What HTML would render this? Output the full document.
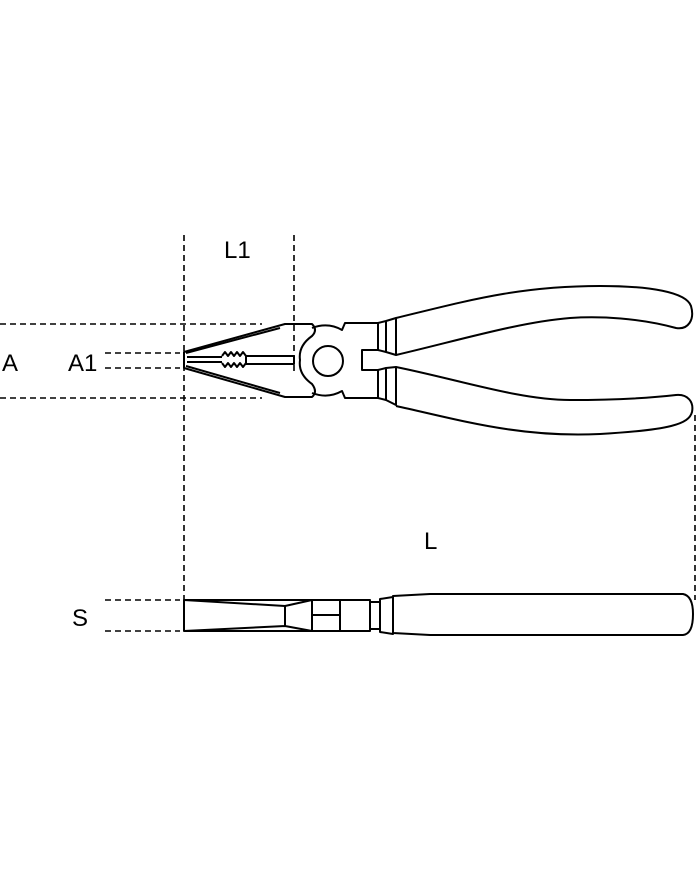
<!DOCTYPE html>
<html><head><style>body{margin:0;background:#fff}svg{display:block}</style></head><body>
<svg width="700" height="869" viewBox="0 0 700 869" xmlns="http://www.w3.org/2000/svg" font-family="Liberation Sans, sans-serif">
<g stroke="#000" stroke-width="1.6" stroke-dasharray="6,4" fill="none">
<line x1="184" y1="235" x2="184" y2="604"/>
<line x1="294" y1="235" x2="294" y2="372"/>
<line x1="0" y1="324" x2="262" y2="324"/>
<line x1="0" y1="398" x2="262" y2="398"/>
<line x1="105" y1="353" x2="180" y2="353"/>
<line x1="105" y1="368" x2="180" y2="368"/>
<line x1="695" y1="415" x2="695" y2="600"/>
<line x1="105" y1="600" x2="180" y2="600"/>
<line x1="105" y1="631" x2="180" y2="631"/>
</g>
<g font-size="24" fill="#000">
<text x="224" y="258" transform="scale(1,1)">L1</text>
<text x="2" y="371">A</text>
<text x="68" y="371">A1</text>
<text x="424" y="549">L</text>
<text x="72" y="626">S</text>
</g>
<g stroke="#000" stroke-width="2" fill="none" stroke-linejoin="round">
<path d="M184,352 L285,324 L312,324 Q318,330 312,336 Q298,346 300,360 Q298,374 312,384 Q318,392 312,397 L285,397 L184,368 Z"/>
<path d="M186,353 L280,328"/><path d="M186,366 L280,393"/>
<path d="M187,357 L222,357 M187,362 L222,362"/>
<path d="M222,356 l3,-4 l3,4 l3,-4 l3,4 l3,-4 l3,4 l3,-4 l3,4 M222,363 l3,4 l3,-4 l3,4 l3,-4 l3,4 l3,-4 l3,4 l3,-4"/>
<rect x="246" y="356" width="48" height="8"/>
<path d="M312,328 Q328,322 342,330 L345,323 L378,323 L378,350 L362,350 L362,370 L378,370 L378,398 L345,398 L342,391 Q328,399 312,393"/>
<circle cx="328" cy="361" r="15"/>
<path d="M378,323 L386,321 L386,352 L378,350 M386,321 L396,318 L396,355 L386,352"/>
<path d="M378,370 L386,368 L386,400 L378,398 M386,368 L396,367 L396,405 L386,400"/>
<path d="M396,318 C470,300 520,286 600,286 C650,286 686,292 691,306 C695,320 688,330 676,328 C640,318 600,316 570,318 C520,322 460,340 396,355"/>
<path d="M396,367 C460,380 520,400 570,400 C610,400 650,398 676,395 C688,394 694,402 692,412 C689,424 670,430 600,434 C520,438 460,420 396,406"/>
<path d="M184,600 L184,631 L312,631 L312,600 Z"/>
<path d="M184,600 L285,606 L312,600 M184,631 L285,626 L312,631 M285,606 L285,626"/>
<rect x="312" y="600" width="58" height="31"/>
<line x1="340" y1="600" x2="340" y2="631"/><line x1="312" y1="615" x2="340" y2="615"/>
<path d="M370,602 L380,602 L380,629 L370,629 M380,599 L393,597 L393,634 L380,632 Z"/>
<path d="M393,596 L430,594 L683,594 Q693,596 693,614 Q693,634 683,635 L430,635 L393,633 Z"/>
</g>
</svg>
</body></html>
